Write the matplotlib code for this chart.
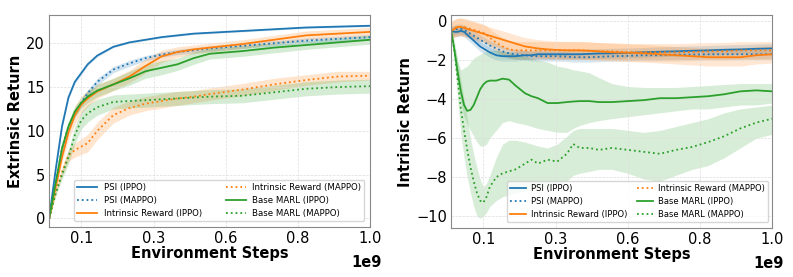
import numpy as np
import matplotlib
matplotlib.use('Agg')
import matplotlib.pyplot as plt

# x in units of 1e9 environment steps
x_left = [0, 0.02, 0.04, 0.06, 0.08, 0.1, 0.12, 0.15, 0.2, 0.25, 0.3, 0.35,
          0.4, 0.45, 0.5, 0.6, 0.7, 0.8, 0.9, 1.0]

ext_psi_ippo = [0, 5.5, 10.5, 13.8, 15.6, 16.6, 17.6, 18.6, 19.6, 20.1, 20.4, 20.7,
                20.9, 21.1, 21.2, 21.4, 21.6, 21.8, 21.9, 22.0]
ext_psi_mappo = [0, 4.0, 8.0, 10.5, 12.0, 13.2, 14.3, 15.6, 17.0, 17.7, 18.3, 18.7,
                 19.0, 19.2, 19.4, 19.7, 20.0, 20.3, 20.5, 20.7]
ext_ir_ippo = [0, 3.5, 7.0, 9.8, 11.8, 13.0, 13.7, 14.5, 15.3, 16.2, 17.4, 18.5,
               19.0, 19.3, 19.5, 19.9, 20.4, 20.9, 21.1, 21.3]
ext_ir_mappo = [0, 3.0, 5.3, 7.2, 7.8, 8.2, 8.6, 10.0, 11.8, 12.6, 13.1, 13.4,
                13.7, 13.9, 14.2, 14.7, 15.3, 15.8, 16.2, 16.3]
ext_base_ippo = [0, 4.0, 8.0, 10.5, 12.2, 13.2, 13.9, 14.6, 15.3, 16.0, 16.8, 17.2,
                 17.6, 18.3, 18.8, 19.1, 19.5, 19.8, 20.1, 20.4]
ext_base_mappo = [0, 2.8, 5.0, 7.0, 9.5, 11.2, 12.0, 12.7, 13.3, 13.4, 13.5, 13.6,
                  13.7, 13.8, 13.9, 14.0, 14.4, 14.8, 15.0, 15.1]

ext_psi_ippo_sd = [0, 0.2, 0.2, 0.2, 0.2, 0.2, 0.15, 0.15, 0.1, 0.1, 0.1, 0.1,
                   0.1, 0.1, 0.1, 0.1, 0.1, 0.1, 0.1, 0.1]
ext_psi_mappo_sd = [0, 0.3, 0.4, 0.4, 0.4, 0.4, 0.4, 0.4, 0.35, 0.35, 0.3, 0.3,
                    0.3, 0.3, 0.3, 0.3, 0.3, 0.3, 0.3, 0.3]
ext_ir_ippo_sd = [0, 0.3, 0.6, 0.8, 1.0, 1.0, 0.9, 0.8, 0.7, 0.7, 0.8, 0.7,
                  0.6, 0.5, 0.5, 0.5, 0.5, 0.5, 0.5, 0.5]
ext_ir_mappo_sd = [0, 0.3, 0.5, 0.7, 0.8, 0.9, 1.0, 1.0, 0.9, 0.8, 0.8, 0.8,
                   0.8, 0.7, 0.7, 0.7, 0.7, 0.6, 0.6, 0.5]
ext_base_ippo_sd = [0, 0.3, 0.5, 0.6, 0.6, 0.6, 0.7, 0.7, 0.7, 0.8, 0.8, 0.8,
                    0.7, 0.7, 0.6, 0.6, 0.6, 0.5, 0.5, 0.5]
ext_base_mappo_sd = [0, 0.3, 0.5, 0.8, 1.0, 1.0, 1.0, 0.9, 0.8, 0.8, 0.8, 0.8,
                     0.8, 0.8, 0.8, 0.8, 0.8, 0.8, 0.8, 0.8]

x_right = [0, 0.01, 0.02, 0.03, 0.04, 0.05, 0.06, 0.07, 0.08, 0.09, 0.1, 0.11, 0.12,
           0.14, 0.16, 0.18, 0.2, 0.23, 0.25, 0.27, 0.3, 0.33, 0.36, 0.38, 0.4, 0.43,
           0.46, 0.5, 0.55, 0.6, 0.65, 0.7, 0.75, 0.8, 0.85, 0.9, 0.95, 1.0]

int_psi_ippo = [-0.5, -0.55, -0.55, -0.5, -0.55, -0.7, -0.85, -1.0, -1.15, -1.3, -1.4,
                -1.5, -1.6, -1.75, -1.8, -1.8, -1.8, -1.75, -1.75, -1.7, -1.7, -1.7,
                -1.7, -1.7, -1.7, -1.68, -1.66, -1.65, -1.63, -1.6, -1.57, -1.55, -1.52,
                -1.5, -1.47, -1.45, -1.42, -1.4]
int_psi_mappo = [-0.5, -0.45, -0.4, -0.4, -0.45, -0.55, -0.65, -0.75, -0.85, -0.95,
                 -1.05, -1.15, -1.25, -1.4, -1.55, -1.65, -1.7, -1.75, -1.8, -1.8, -1.8,
                 -1.8, -1.82, -1.85, -1.85, -1.85, -1.83, -1.8, -1.78, -1.75, -1.75,
                 -1.72, -1.72, -1.7, -1.7, -1.7, -1.7, -1.7]
int_ir_ippo = [-0.5, -0.4, -0.3, -0.3, -0.35, -0.4, -0.45, -0.5, -0.55, -0.6, -0.65,
               -0.7, -0.75, -0.85, -0.95, -1.05, -1.15, -1.3, -1.35, -1.4, -1.45, -1.48,
               -1.5, -1.5, -1.5, -1.52, -1.55, -1.6, -1.62, -1.65, -1.7, -1.75, -1.8,
               -1.85, -1.85, -1.85, -1.75, -1.7]
int_ir_mappo = [-0.5, -0.35, -0.3, -0.3, -0.3, -0.35, -0.4, -0.45, -0.5, -0.55, -0.6,
                -0.7, -0.85, -1.1, -1.3, -1.45, -1.5, -1.5, -1.5, -1.5, -1.5, -1.5, -1.5,
                -1.5, -1.5, -1.52, -1.55, -1.55, -1.6, -1.6, -1.6, -1.6, -1.58, -1.55,
                -1.55, -1.5, -1.5, -1.5]
int_base_ippo = [-0.5, -1.5, -2.6, -3.6, -4.3, -4.6, -4.55, -4.3, -3.9, -3.5, -3.25,
                 -3.1, -3.05, -3.05, -2.95, -3.0, -3.3, -3.7, -3.85, -3.95, -4.2, -4.2,
                 -4.15, -4.12, -4.1, -4.1, -4.15, -4.15, -4.1, -4.05, -3.95, -3.95, -3.9,
                 -3.85, -3.75, -3.6, -3.55, -3.6]
int_base_mappo = [-0.5, -1.5, -3.0, -4.5, -5.6, -6.6, -7.5, -8.2, -8.8, -9.2, -9.3,
                  -9.0, -8.5, -8.0, -7.8, -7.7, -7.6, -7.3, -7.1, -7.3, -7.1, -7.2, -6.8,
                  -6.3, -6.5, -6.5, -6.6, -6.5, -6.6, -6.7, -6.8, -6.6, -6.45, -6.2, -5.9,
                  -5.5, -5.2, -5.0]

int_psi_sd = 0.25
int_ir_sd = 0.45
int_base_ippo_hi = [-0.5, -1.3, -2.0, -2.5, -2.4, -2.3, -2.1, -1.9, -1.8, -1.7, -1.6,
                    -1.55, -1.5, -1.5, -1.55, -1.6, -1.7, -1.8, -1.9, -2.0, -2.1, -2.3,
                    -2.4, -2.5, -2.55, -2.65, -2.9, -3.2, -3.35, -3.4, -3.4, -3.4, -3.35,
                    -3.3, -3.25, -3.2, -3.2, -3.2]
int_base_ippo_lo = [-0.5, -2.0, -3.2, -4.2, -4.9, -5.3, -5.6, -5.9, -6.2, -6.4, -6.4,
                    -6.3, -6.0, -5.6, -5.2, -5.1, -5.2, -5.3, -5.4, -5.5, -5.6, -5.7,
                    -5.7, -5.5, -5.35, -5.2, -5.1, -5.0, -4.9, -4.8, -4.7, -4.6, -4.5,
                    -4.5, -4.4, -4.3, -4.3, -4.2]
int_base_mappo_hi = [-0.5, -1.0, -2.0, -3.0, -4.0, -5.0, -6.0, -6.8, -7.5, -8.1, -8.5,
                     -8.3, -7.9, -7.0, -6.3, -6.1, -6.1, -6.2, -6.3, -6.4, -6.5, -6.3,
                     -5.9, -5.6, -5.5, -5.5, -5.5, -5.5, -5.6, -5.7, -5.6, -5.4, -5.2,
                     -5.0, -4.7, -4.5, -4.4, -4.3]
int_base_mappo_lo = [-0.5, -2.0, -4.0, -5.8, -7.0, -8.0, -8.8, -9.5, -10.0, -10.1, -10.0,
                     -9.8, -9.5, -9.2, -9.0, -8.9, -8.8, -8.7, -8.6, -8.6, -8.5, -8.4,
                     -8.2, -7.9, -7.8, -7.7, -7.6, -7.6, -7.8, -8.1, -8.2, -7.9, -7.6,
                     -7.4, -7.0, -6.5, -6.0, -5.8]

labels = ['PSI (IPPO)', 'PSI (MAPPO)', 'Intrinsic Reward (IPPO)',
          'Intrinsic Reward (MAPPO)', 'Base MARL (IPPO)', 'Base MARL (MAPPO)']
colors = ['tab:blue', 'tab:blue', 'tab:orange', 'tab:orange', 'tab:green', 'tab:green']
styles = ['-', ':', '-', ':', '-', ':']

tick_pos = np.linspace(0.1, 1.0, 5)
tick_lab = ['%.1f' % t for t in tick_pos]

fig = plt.figure(figsize=(7.93, 2.77), dpi=100)
ax1 = fig.add_axes([0.062, 0.18, 0.405, 0.765])
ax2 = fig.add_axes([0.569, 0.177, 0.405, 0.768])

ext_means = [ext_psi_ippo, ext_psi_mappo, ext_ir_ippo, ext_ir_mappo, ext_base_ippo, ext_base_mappo]
ext_sds = [ext_psi_ippo_sd, ext_psi_mappo_sd, ext_ir_ippo_sd, ext_ir_mappo_sd,
           ext_base_ippo_sd, ext_base_mappo_sd]
xl = np.array(x_left)
for m, sd, c, ls, lab in zip(ext_means, ext_sds, colors, styles, labels):
    m = np.array(m)
    sd = np.array(sd)
    ax1.fill_between(xl, m - sd, m + sd, color=c, alpha=0.2, lw=0)
    ax1.plot(xl, m, color=c, ls=ls, lw=1.3, label=lab)

xr = np.array(x_right)
int_means = [int_psi_ippo, int_psi_mappo, int_ir_ippo, int_ir_mappo, int_base_ippo, int_base_mappo]
bands = [
    (np.array(int_psi_ippo) - int_psi_sd, np.array(int_psi_ippo) + int_psi_sd),
    (np.array(int_psi_mappo) - int_psi_sd, np.array(int_psi_mappo) + int_psi_sd),
    (np.array(int_ir_ippo) - int_ir_sd, np.array(int_ir_ippo) + int_ir_sd),
    (np.array(int_ir_mappo) - int_ir_sd, np.array(int_ir_mappo) + int_ir_sd),
    (int_base_ippo_lo, int_base_ippo_hi),
    (int_base_mappo_lo, int_base_mappo_hi),
]
for m, (lo, hi), c, ls, lab in zip(int_means, bands, colors, styles, labels):
    ax2.fill_between(xr, lo, hi, color=c, alpha=0.18, lw=0)
    ax2.plot(xr, m, color=c, ls=ls, lw=1.3, label=lab)

ax1.set_ylim(-1, 23.2)
ax1.set_yticks([0, 5, 10, 15, 20])
ax1.set_ylabel('Extrinsic Return', fontsize=10.5, fontweight='bold', labelpad=2)
ax2.set_ylim(-10.6, 0.3)
ax2.set_yticks([0, -2, -4, -6, -8, -10])
ax2.set_ylabel('Intrinsic Return', fontsize=10.5, fontweight='bold', labelpad=2)

for ax in (ax1, ax2):
    ax.set_xlim(0, 1.0)
    ax.set_xticks(tick_pos)
    ax.set_xticklabels(tick_lab)
    ax.tick_params(labelsize=10.5, length=0, pad=3)
    ax.grid(True, ls='--', lw=0.5, color='#dddddd')
    ax.set_xlabel('Environment Steps', fontsize=10.5, fontweight='bold', labelpad=0)
    for s in ax.spines.values():
        s.set_color('#888888')
        s.set_linewidth(0.8)
    ax.text(1.035, -0.165, '1e9', transform=ax.transAxes, ha='right', va='center',
            fontsize=10.5, fontweight='bold')

ax1.legend(ncol=2, fontsize=6.2, loc='lower left', mode='expand',
           bbox_to_anchor=(0.065, 0.01, 0.93, 0.2), handlelength=2.3,
           borderpad=0.35, labelspacing=0.45, framealpha=0.8)
ax2.legend(ncol=2, fontsize=6.0, loc='lower left', mode='expand',
           bbox_to_anchor=(0.16, 0.01, 0.84, 0.2), handlelength=2.0,
           handletextpad=0.6, borderpad=0.35, labelspacing=0.45, framealpha=0.8)

fig.savefig('out.png', dpi=100)
